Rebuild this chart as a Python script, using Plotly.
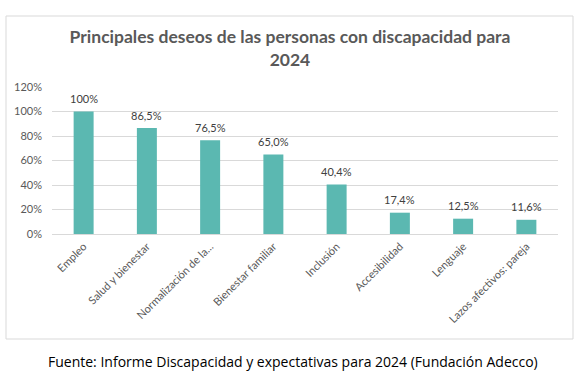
import plotly.graph_objects as go

categories = ["Empleo", "Salud y bienestar", "Normalización de la...", "Bienestar familiar",
              "Inclusión", "Accesibilidad", "Lenguaje", "Lazos afectivos: pareja"]
values = [1.00, 0.865, 0.765, 0.650, 0.404, 0.174, 0.125, 0.116]
value_labels = ["100%", "86,5%", "76,5%", "65,0%", "40,4%", "17,4%", "12,5%", "11,6%"]
y_ticks = [0, 0.2, 0.4, 0.6, 0.8, 1.0, 1.2]
y_tick_labels = ["0%", "20%", "40%", "60%", "80%", "100%", "120%"]

W, H = 587, 373
L, R, T, B = 52, 29, 87, 139

fig = go.Figure(go.Bar(
    x=categories, y=values,
    marker=dict(color="#5BB8B1", line=dict(width=0)),
    cliponaxis=False,
))

label_annotations = [
    dict(x=c, y=v, text=t, xref="x", yref="y", showarrow=False,
         yanchor="middle", xanchor="center", yshift=13,
         font=dict(family="Lato", size=11, color="#404040"))
    for c, v, t in zip(categories, values, value_labels)
]

fig.update_layout(
    width=W, height=H,
    margin=dict(l=L, r=R, t=T, b=B, pad=0, autoexpand=False),
    paper_bgcolor="white", plot_bgcolor="white",
    bargap=0.684,
    showlegend=False,
    font=dict(family="Lato", color="#595959"),
    title=dict(
        text="<b>Principales deseos de las personas con discapacidad para<br>2024</b>",
        x=0.494, xanchor="center", y=1 - 43 / H, yanchor="middle", yref="container",
        font=dict(family="Lato", size=17.5, color="#595959"),
    ),
    xaxis=dict(
        tickangle=-45, tickfont=dict(family="Lato", size=11, color="#595959"),
        showgrid=False, showline=False, ticks="", fixedrange=True,
        automargin=False, ticklabelstandoff=3,
    ),
    yaxis=dict(
        range=[0, 1.2], tickvals=y_ticks, ticktext=y_tick_labels,
        tickfont=dict(family="Lato", size=11, color="#595959"),
        showgrid=True, gridcolor="#D9D9D9", gridwidth=1,
        zeroline=True, zerolinecolor="#D9D9D9", zerolinewidth=1,
        showline=False, ticks="", ticklabelstandoff=9, automargin=False,
        fixedrange=True,
    ),
    shapes=[dict(
        type="rect", xref="paper", yref="paper",
        x0=(6 - L) / (W - L - R), x1=(573 - L) / (W - L - R),
        y0=(H - B - 339) / (H - T - B), y1=(H - B - 16) / (H - T - B),
        line=dict(color="#D9D9D9", width=1), fillcolor="rgba(0,0,0,0)", layer="below",
    )],
    annotations=label_annotations + [dict(
        text="Fuente: Informe Discapacidad y expectativas para 2024 (Fundación Adecco)",
        xref="paper", yref="paper",
        x=(293 - L) / (W - L - R), xanchor="center",
        y=(H - B - 361) / (H - T - B), yanchor="middle",
        showarrow=False,
        font=dict(family="Open Sans", size=14, color="#000000"),
    )],
)

fig.write_html("out.html", config={"displayModeBar": False},
               post_script="document.body.style.margin='0';")
